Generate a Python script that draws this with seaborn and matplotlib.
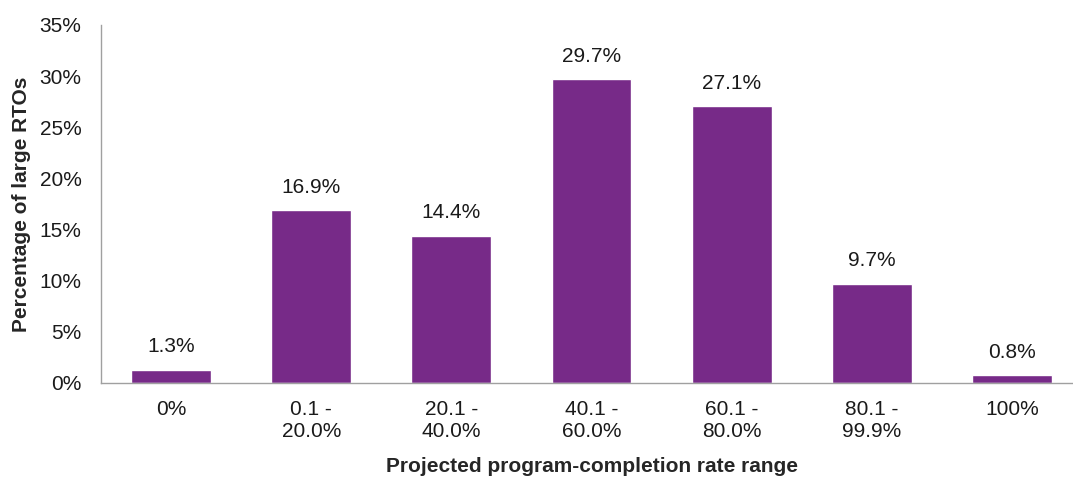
import matplotlib
matplotlib.use('Agg')
import matplotlib.pyplot as plt
import seaborn as sns
import pandas as pd
from matplotlib.ticker import PercentFormatter

# ── Data ──────────────────────────────────────────────────────────────────────
categories = ['0%', '0.1 -\n20.0%', '20.1 -\n40.0%', '40.1 -\n60.0%',
              '60.1 -\n80.0%', '80.1 -\n99.9%', '100%']
values = [1.3, 16.9, 14.4, 29.7, 27.1, 9.7, 0.8]
y_ticks = [0, 5, 10, 15, 20, 25, 30, 35]

df = pd.DataFrame({'range': categories, 'pct': values})

# ── Plot ──────────────────────────────────────────────────────────────────────
sns.set_style('white')
plt.rcParams['font.family'] = ['Liberation Sans', 'DejaVu Sans']

W, H = 1073, 478
fig = plt.figure(figsize=(W / 100, H / 100), dpi=100)
ax = fig.add_axes([101 / W, (H - 383) / H, (1082 - 101) / W, (383 - 25) / H])

sns.barplot(data=df, x='range', y='pct', color='#772A88', width=0.57,
            saturation=1, ax=ax)

for patch, v in zip(ax.patches, values):
    ax.text(patch.get_x() + patch.get_width() / 2, v + 1.3, f'{v:.1f}%',
            ha='center', va='bottom', fontsize=15, color='#1a1a1a')

ax.set_ylim(0, 35)
ax.set_yticks(y_ticks)
ax.yaxis.set_major_formatter(PercentFormatter(decimals=0))
ax.tick_params(axis='both', length=0, labelsize=15, colors='#1a1a1a')
ax.tick_params(axis='x', pad=12)
ax.tick_params(axis='y', pad=14)

ax.set_xlabel('Projected program-completion rate range', fontsize=15,
              fontweight='bold', labelpad=12)
ax.set_ylabel('Percentage of large RTOs', fontsize=15, fontweight='bold',
              labelpad=6)

for side in ['top', 'right']:
    ax.spines[side].set_visible(False)
for side in ['left', 'bottom']:
    ax.spines[side].set_color('#a0a0a0')
    ax.spines[side].set_linewidth(1)

fig.savefig('out.png', dpi=100)
